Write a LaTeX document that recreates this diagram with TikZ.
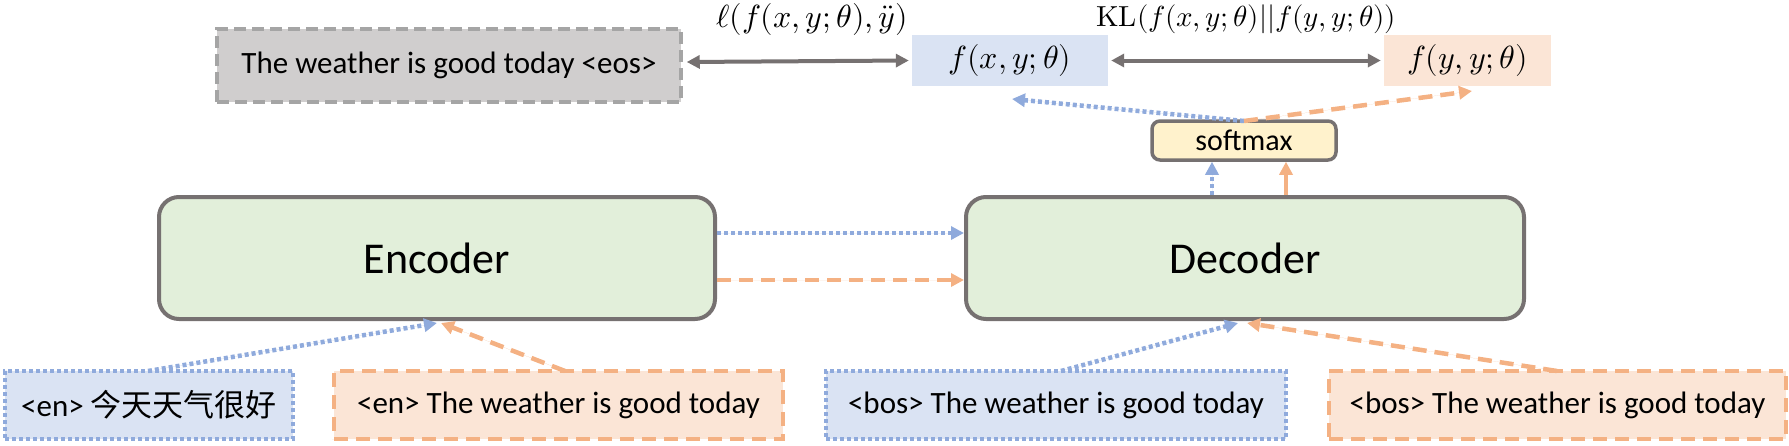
\documentclass[tikz,border=0pt]{standalone}
\usepackage{fontspec}
\usepackage{unicode-math}
\setmainfont{Carlito}
\setmathfont{Latin Modern Math}
\newfontfamily\cjk{Noto Sans CJK SC}
\usetikzlibrary{arrows.meta}
\definecolor{bord}{HTML}{767171}
\definecolor{grayfill}{HTML}{D0CECE}
\definecolor{graybord}{HTML}{A5A5A5}
\definecolor{bluefill}{HTML}{DAE3F3}
\definecolor{bluel}{HTML}{8FAADC}
\definecolor{orfill}{HTML}{FBE5D6}
\definecolor{orl}{HTML}{F4B183}
\definecolor{greenfill}{HTML}{E2EFDA}
\definecolor{yelfill}{HTML}{FFF2CC}
\tikzset{
  box/.style={rectangle, inner sep=0pt, font=\fontsize{31}{36}\selectfont},
  graybox/.style={box, fill=grayfill, draw=graybord, line width=3.5pt, dash pattern=on 12pt off 6pt},
  bluebox/.style={box, fill=bluefill, draw=bluel, line width=3.5pt, dash pattern=on 4pt off 3pt},
  orbox/.style={box, fill=orfill, draw=orl, line width=3.5pt, dash pattern=on 14pt off 8pt},
  coder/.style={rectangle, rounded corners=20pt, fill=greenfill, draw=bord, line width=4pt, inner sep=0pt, font=\fontsize{44}{50}\selectfont},
  tip/.style={-{Triangle[length=13pt,width=13pt]}},
  dtip/.style={{Triangle[length=13pt,width=13pt]}-{Triangle[length=13pt,width=13pt]}},
  bluearr/.style={tip, draw=bluel, fill=bluel, line width=4.5pt, dash pattern=on 4pt off 3pt},
  orarr/.style={tip, draw=orl, fill=orl, line width=4.5pt, dash pattern=on 14pt off 8pt},
  grayarr/.style={dtip, draw=bord, fill=bord, line width=4pt},
  mathlbl/.style={inner sep=0pt, font=\fontsize{29}{34}\selectfont},
  fbox/.style={box, minimum height=51pt, font=\fontsize{32}{36}\selectfont},
}
\begin{document}
\begin{tikzpicture}[x=1pt,y=-1pt]
\useasboundingbox (0,0) rectangle (1789,445);
% top row
\node[graybox, minimum width=464pt, minimum height=73pt] (eos) at (449,65.5) {The weather is good today <eos>};
\node[fbox, fill=bluefill, minimum width=196pt] (fx) at (1010,60.5) {$f(x,y;\theta)$};
\node[fbox, fill=orfill, minimum width=167pt] (fy) at (1467.5,60.5) {$f(y,y;\theta)$};
\node[mathlbl, font=\fontsize{32}{36}\selectfont] (l1) at (812,19) {$\ell(f(x,y;\theta),\ddot{y})$};
\node[mathlbl] (l2) at (1246,19) {$\symup{KL}(f(x,y;\theta)||f(y,y;\theta))$};
\node[rectangle, rounded corners=8pt, fill=yelfill, draw=bord, line width=3.5pt, minimum width=184pt, minimum height=39pt, inner sep=0pt, font=\fontsize{30}{34}\selectfont] (sm) at (1244,140.5) {softmax};
% coders
\node[coder, minimum width=556pt, minimum height=122pt] (enc) at (437,258) {Encoder};
\node[coder, minimum width=558pt, minimum height=122pt] (dec) at (1245,258) {Decoder};
% bottom boxes
\node[bluebox, minimum width=288pt, minimum height=68pt] (b1) at (149,405) {<en> {\cjk 今天天气很好}};
\node[orbox, minimum width=449pt, minimum height=68pt] (b2) at (558.5,405) {<en> The weather is good today};
\node[bluebox, minimum width=460pt, minimum height=68pt] (b3) at (1056,405) {<bos> The weather is good today};
\node[orbox, minimum width=457pt, minimum height=68pt] (b4) at (1557.5,405) {<bos> The weather is good today};
% coordinates
\coordinate (smtop) at (1244,121);
\coordinate (fxend) at (1012,99);
\coordinate (fyend) at (1472,91);
\coordinate (enctip) at (437,323);
\coordinate (enctip2) at (441,323);
\coordinate (dectip) at (1238,323);
\coordinate (dectip2) at (1247,323);
\coordinate (b1top) at (148,371);
\coordinate (b2top) at (565,371);
\coordinate (b3top) at (1061,371);
\coordinate (b4top) at (1557,371);
% arrows
\draw[grayarr] ([xshift=4pt,yshift=3.5pt]eos.east) -- ([xshift=-3pt]fx.west);
\draw[grayarr] ([xshift=3pt]fx.east) -- ([xshift=-3pt]fy.west);
\draw[bluearr] (enc.east |- 0,233) -- (dec.west |- 0,233);
\draw[orarr] (enc.east |- 0,280) -- (dec.west |- 0,280);
\draw[bluearr] (dec.north -| 1212,0) -- (sm.south -| 1212,0);
\draw[tip, draw=orl, fill=orl, line width=4.5pt] (dec.north -| 1286,0) -- (sm.south -| 1286,0);
\draw[bluearr] (smtop) -- (fxend);
\draw[orarr] (smtop) -- (fyend);
\draw[bluearr] (b1top) -- (enctip);
\draw[orarr] (b2top) -- (enctip2);
\draw[bluearr] (b3top) -- (dectip);
\draw[orarr] (b4top) -- (dectip2);
\end{tikzpicture}
\end{document}
